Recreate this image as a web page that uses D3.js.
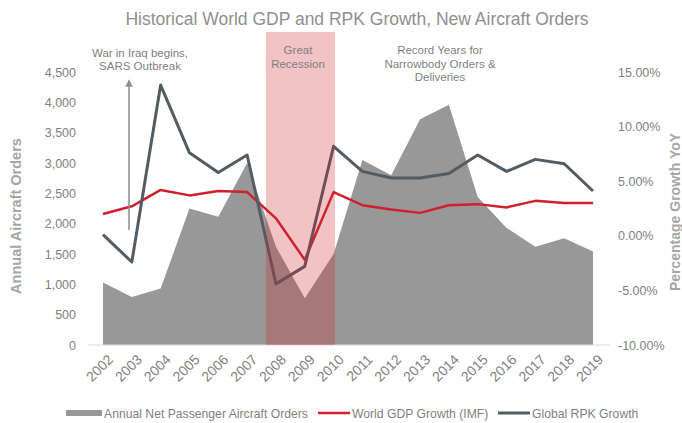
<!DOCTYPE html>
<html><head><meta charset="utf-8">
<script src="https://cdn.jsdelivr.net/npm/d3@7"></script>
<style>
html,body{margin:0;padding:0;background:#fff;}
svg text{font-family:"Liberation Sans",Arial,sans-serif;}
</style></head>
<body><svg id="c" width="682" height="423"></svg>
<script>
const years = [2002,2003,2004,2005,2006,2007,2008,2009,2010,2011,2012,2013,2014,2015,2016,2017,2018,2019];
const orders = [1030,790,930,2250,2115,3000,1620,770,1500,3050,2800,3720,3960,2440,1930,1620,1760,1540];
const gdp = [2.0,2.7,4.2,3.7,4.1,4.0,1.6,-2.2,4.0,2.8,2.4,2.1,2.8,2.9,2.6,3.2,3.0,3.0];
const rpk = [0.1,-2.4,13.8,7.6,5.8,7.4,-4.4,-2.8,8.2,5.9,5.3,5.3,5.7,7.4,5.9,7.0,6.6,4.1];
const leftTicks = [0,500,1000,1500,2000,2500,3000,3500,4000,4500];
const rightTicks = [-10,-5,0,5,10,15];
const recession = [2008,2010];
const title = "Historical World GDP and RPK Growth, New Aircraft Orders";
const seriesNames = ["Annual Net Passenger Aircraft Orders","World GDP Growth (IMF)","Global RPK Growth"];

const svg = d3.select("#c");
const x = d3.scaleLinear().domain([2002,2019]).range([103,593]);
const yL = d3.scaleLinear().domain([0,4500]).range([345,72]);
const yR = d3.scaleLinear().domain([-10,15]).range([345,72]);
const step = x(2003)-x(2002);
const textGray = "#808080";

// title
svg.append("text").attr("x",357).attr("y",25).attr("text-anchor","middle")
  .attr("font-size",17.5).attr("fill","#8f8f8f").text(title);

// area
const area = d3.area().x((d,i)=>x(years[i])).y0(yL(0)).y1(d=>yL(d));
svg.append("path").datum(orders).attr("d",area).attr("fill","#989898");

// baseline
svg.append("line").attr("x1",88).attr("x2",610).attr("y1",yL(0)).attr("y2",yL(0))
  .attr("stroke","#d9d9d9").attr("stroke-width",1);

// lines
const lineR = d3.line().x((d,i)=>x(years[i])).y(d=>yR(d));
svg.append("path").datum(gdp).attr("d",lineR).attr("fill","none").attr("stroke","#d0202e").attr("stroke-width",2.5).attr("stroke-linejoin","round");
svg.append("path").datum(rpk).attr("d",lineR).attr("fill","none").attr("stroke","#515c63").attr("stroke-width",3).attr("stroke-linejoin","round");

// recession band
svg.append("rect").attr("x",x(recession[0])-step*0.35).attr("width",x(recession[1])-x(recession[0])+step*0.4)
  .attr("y",32).attr("height",yL(0)-32).attr("fill","rgba(208,40,48,0.28)");

// arrow
svg.append("defs").append("marker").attr("id","ah").attr("viewBox","0 0 10 10").attr("refX",5).attr("refY",5)
  .attr("markerWidth",5).attr("markerHeight",6).attr("orient","auto")
  .append("path").attr("d","M0,0 L10,5 L0,10 z").attr("fill","#8c8c8c");
svg.append("line").attr("x1",129).attr("x2",129).attr("y1",230).attr("y2",83)
  .attr("stroke","#8c8c8c").attr("stroke-width",1.5).attr("marker-end","url(#ah)");

// annotations
const ann = (cx, y0, lines) => lines.forEach((t,i)=>svg.append("text").attr("x",cx).attr("y",y0+i*13.7)
  .attr("text-anchor","middle").attr("font-size",11.5).attr("fill","#7f7f7f").text(t));
ann(140,56.5,["War in Iraq begins,","SARS Outbreak"]);
ann(298,54,["Great","Recession"]);
ann(440,54,["Record Years for","Narrowbody Orders &","Deliveries"]);

// left axis
const gL = svg.append("g").attr("transform","translate(78,0)")
  .call(d3.axisLeft(yL).tickValues(leftTicks).tickSize(0).tickPadding(2).tickFormat(d3.format(",")));
gL.select(".domain").remove();
gL.selectAll("text").attr("font-size",12.5).attr("fill",textGray);

// right axis
const gR = svg.append("g").attr("transform","translate(616,0)")
  .call(d3.axisRight(yR).tickValues(rightTicks).tickSize(0).tickPadding(2).tickFormat(d=>d.toFixed(2)+"%"));
gR.select(".domain").remove();
gR.selectAll("text").attr("font-size",12.5).attr("fill",textGray);

// x axis
const gX = svg.append("g").attr("transform",`translate(0,${yL(0)+6})`)
  .call(d3.axisBottom(x).tickValues(years).tickSize(0).tickFormat(d3.format("d")));
gX.select(".domain").remove();
gX.selectAll("text").attr("font-size",14).attr("fill",textGray)
  .attr("text-anchor","end").attr("dy","0.35em").attr("dx","0")
  .attr("transform","translate(5,4) rotate(-45)");

// axis titles
svg.append("text").attr("transform","translate(21,216) rotate(-90)").attr("text-anchor","middle")
  .attr("font-size",14.5).attr("font-weight","bold").attr("fill","#a6a6a6").text("Annual Aircraft Orders");
svg.append("text").attr("transform","translate(680,212) rotate(-90)").attr("text-anchor","middle")
  .attr("font-size",14).attr("font-weight","bold").attr("fill","#a6a6a6").text("Percentage Growth YoY");

// legend
const lg = svg.append("g").attr("transform","translate(0,413)");
lg.append("rect").attr("x",66).attr("y",-3).attr("width",36).attr("height",6).attr("fill","#989898");
lg.append("text").attr("x",104).attr("y",4.5).attr("font-size",12.2).attr("fill","#7f7f7f").text(seriesNames[0]);
lg.append("line").attr("x1",318).attr("x2",350).attr("y1",0).attr("y2",0).attr("stroke","#d0202e").attr("stroke-width",2.5);
lg.append("text").attr("x",352).attr("y",4.5).attr("font-size",12.2).attr("fill","#7f7f7f").text(seriesNames[1]);
lg.append("line").attr("x1",498).attr("x2",530).attr("y1",0).attr("y2",0).attr("stroke","#515c63").attr("stroke-width",3);
lg.append("text").attr("x",532).attr("y",4.5).attr("font-size",12.2).attr("fill","#7f7f7f").text(seriesNames[2]);
</script></body></html>
